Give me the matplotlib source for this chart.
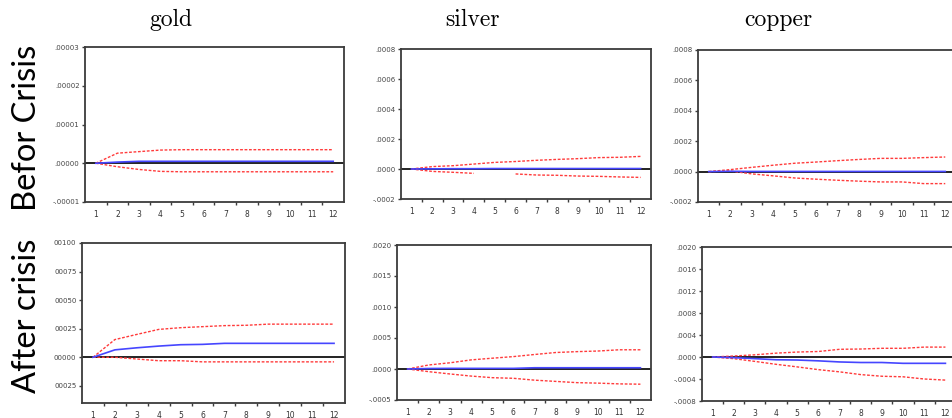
import numpy as np
import matplotlib.pyplot as plt

periods = list(range(1, 13))
metals = ["gold", "silver", "copper"]
rows = ["Befor Crisis", "After crisis"]

# impulse responses (central) and +/- 2 s.e. bands
gold_before = [0, 3e-7, 5e-7, 5e-7, 5e-7, 5e-7, 5e-7, 5e-7, 5e-7, 5e-7, 5e-7, 5e-7]
gold_before_hi = [0, 2.6e-6, 3.0e-6, 3.4e-6, 3.5e-6, 3.5e-6, 3.5e-6, 3.5e-6, 3.5e-6, 3.5e-6, 3.5e-6, 3.5e-6]
gold_before_lo = [0, -9e-7, -1.6e-6, -2.1e-6, -2.2e-6, -2.2e-6, -2.2e-6, -2.2e-6, -2.2e-6, -2.2e-6, -2.2e-6, -2.2e-6]

silver_before = [0, 1e-6, 2e-6, 2e-6, 3e-6, 3e-6, 3e-6, 3e-6, 3e-6, 3e-6, 3e-6, 3e-6]
silver_before_hi = [0, 1.6e-5, 2.2e-5, 3.3e-5, 4.4e-5, 5.0e-5, 5.8e-5, 6.4e-5, 6.9e-5, 7.6e-5, 7.8e-5, 8.4e-5]
silver_before_lo = [0, -1.6e-5, -2.2e-5, -2.9e-5, np.nan, -3.3e-5, -4.0e-5, -4.2e-5, -4.7e-5, -4.9e-5, -5.3e-5, -5.6e-5]

copper_before = [0, 2e-6, 1e-6, 1e-6, 1e-6, 1e-6, 1e-6, 1e-6, 1e-6, 1e-6, 1e-6, 1e-6]
copper_before_hi = [0, 1.3e-5, 2.8e-5, 4.2e-5, 5.5e-5, 6.3e-5, 7.2e-5, 8.0e-5, 8.7e-5, 8.7e-5, 9.2e-5, 9.6e-5]
copper_before_lo = [0, 4e-6, -1.5e-5, -2.8e-5, -4.2e-5, -5.0e-5, -5.7e-5, -6.3e-5, -6.8e-5, -6.8e-5, -7.9e-5, -7.9e-5]

gold_after = [0, 6.5e-5, 8.3e-5, 9.8e-5, 1.10e-4, 1.13e-4, 1.22e-4, 1.22e-4, 1.22e-4, 1.22e-4, 1.22e-4, 1.22e-4]
gold_after_hi = [0, 1.55e-4, 2.0e-4, 2.44e-4, 2.59e-4, 2.68e-4, 2.77e-4, 2.8e-4, 2.9e-4, 2.9e-4, 2.9e-4, 2.9e-4]
gold_after_lo = [0, 0, -1.5e-5, -3.0e-5, -3.0e-5, -4.0e-5, -4.0e-5, -4.0e-5, -4.0e-5, -4.0e-5, -4.0e-5, -4.0e-5]

silver_after = [0, 8e-6, 1e-5, 1e-5, 1e-5, 1e-5, 2e-5, 2e-5, 2e-5, 2e-5, 2e-5, 2e-5]
silver_after_hi = [0, 6.5e-5, 1.0e-4, 1.47e-4, 1.74e-4, 2.0e-4, 2.34e-4, 2.66e-4, 2.8e-4, 2.9e-4, 3.1e-4, 3.1e-4]
silver_after_lo = [0, -4.3e-5, -8.0e-5, -1.14e-4, -1.4e-4, -1.5e-4, -1.8e-4, -2.0e-4, -2.2e-4, -2.28e-4, -2.4e-4, -2.45e-4]

copper_after = [0, -1.2e-5, -3.0e-5, -5.0e-5, -5.5e-5, -7.0e-5, -9.0e-5, -1.0e-4, -1.0e-4, -1.15e-4, -1.15e-4, -1.15e-4]
copper_after_hi = [0, 1.8e-5, 4.0e-5, 7.0e-5, 9.0e-5, 1.0e-4, 1.4e-4, 1.45e-4, 1.58e-4, 1.58e-4, 1.8e-4, 1.8e-4]
copper_after_lo = [0, -3.0e-5, -8.0e-5, -1.33e-4, -1.8e-4, -2.3e-4, -2.7e-4, -3.2e-4, -3.5e-4, -3.6e-4, -4.0e-4, -4.2e-4]

# y tick values and their labels (as printed in the source)
yt_gold_b = [-0.00001, 0, 0.00001, 0.00002, 0.00003]
yl_gold_b = ["-.00001", ".00000", ".00001", ".00002", ".00003"]
yt_silver_b = [-0.0002, 0, 0.0002, 0.0004, 0.0006, 0.0008]
yl_silver_b = ["-.0002", ".0000", ".0002", ".0004", ".0006", ".0008"]
yt_copper_b = yt_silver_b
yl_copper_b = yl_silver_b
yt_gold_a = [-0.00025, 0, 0.00025, 0.0005, 0.00075, 0.001]
yl_gold_a = ["00025", "00000", "00025", "00050", "00075", "00100"]
yt_silver_a = [-0.0005, 0, 0.0005, 0.001, 0.0015, 0.002]
yl_silver_a = ["-.0005", ".0000", ".0005", ".0010", ".0015", ".0020"]
yt_copper_a = [-0.0008, -0.0004, 0, 0.0004, 0.0008, 0.0012, 0.0016, 0.002]
yl_copper_a = ["-.0008", "-.0004", ".0000", ".0004", ".0008", ".0012", ".0016", ".0020"]

W, H = 953, 418
fig = plt.figure(figsize=(W / 100, H / 100), dpi=100)

# panel boxes in pixels: left, top, right, bottom
boxes = [
    [(85, 47, 344, 202), (401, 49, 651, 199), (698, 50, 956, 202)],
    [(82, 243, 345, 403), (397, 245, 651, 400), (702, 247, 956, 401)],
]
panels = [
    [(gold_before, gold_before_hi, gold_before_lo, yt_gold_b, yl_gold_b, (-0.00001, 0.00003)),
     (silver_before, silver_before_hi, silver_before_lo, yt_silver_b, yl_silver_b, (-0.0002, 0.0008)),
     (copper_before, copper_before_hi, copper_before_lo, yt_copper_b, yl_copper_b, (-0.0002, 0.0008))],
    [(gold_after, gold_after_hi, gold_after_lo, yt_gold_a, yl_gold_a, (-0.0004, 0.001)),
     (silver_after, silver_after_hi, silver_after_lo, yt_silver_a, yl_silver_a, (-0.0005, 0.002)),
     (copper_after, copper_after_hi, copper_after_lo, yt_copper_a, yl_copper_a, (-0.0008, 0.002))],
]

red = "#ff3b3b"
blue = "#4646ff"
edge = "#3c3c3c"

for r in range(2):
    for c in range(3):
        l, t, rr, b = boxes[r][c]
        ax = fig.add_axes([l / W, 1 - b / H, (rr - l) / W, (b - t) / H])
        mid, hi, lo, yt, yl, ylim = panels[r][c]
        ax.axhline(0, color="#222222", lw=1.4, zorder=1)
        ax.plot(periods, mid, color=blue, lw=1.2, zorder=3)
        ax.plot(periods, hi, color=red, lw=1.0, ls=(0, (2, 1.2)), zorder=2)
        ax.plot(periods, lo, color=red, lw=1.0, ls=(0, (2, 1.2)), zorder=2)
        ax.set_xlim(0.5, 12.5)
        ax.set_ylim(*ylim)
        ax.set_xticks(periods)
        ax.set_xticklabels([str(p) for p in periods])
        ax.set_xticks(np.arange(1.5, 12.5, 1), minor=True)
        ax.tick_params(axis="x", which="major", length=0, pad=5.5, labelsize=5.5, labelcolor="#333333")
        ax.tick_params(axis="x", which="minor", length=2.5, width=1, color=edge, direction="out")
        ax.set_yticks(yt)
        ax.set_yticklabels(yl)
        ax.tick_params(axis="y", length=2.5, width=1, color=edge, pad=1.5, labelsize=5, labelcolor="#444444")
        for s in ax.spines.values():
            s.set_color(edge)
            s.set_linewidth(1.3)

# column titles
for name, x in zip(metals, [171, 473, 778]):
    fig.text(x / W, 1 - 20 / H, name, ha="center", va="center", fontsize=17, family="cmr10")

# row labels
for name, y in zip(rows, [128, 316]):
    fig.text(27 / W, 1 - y / H, name, ha="center", va="center", rotation=90, fontsize=23.5, family="Lato")

fig.savefig("out.png", dpi=100)
